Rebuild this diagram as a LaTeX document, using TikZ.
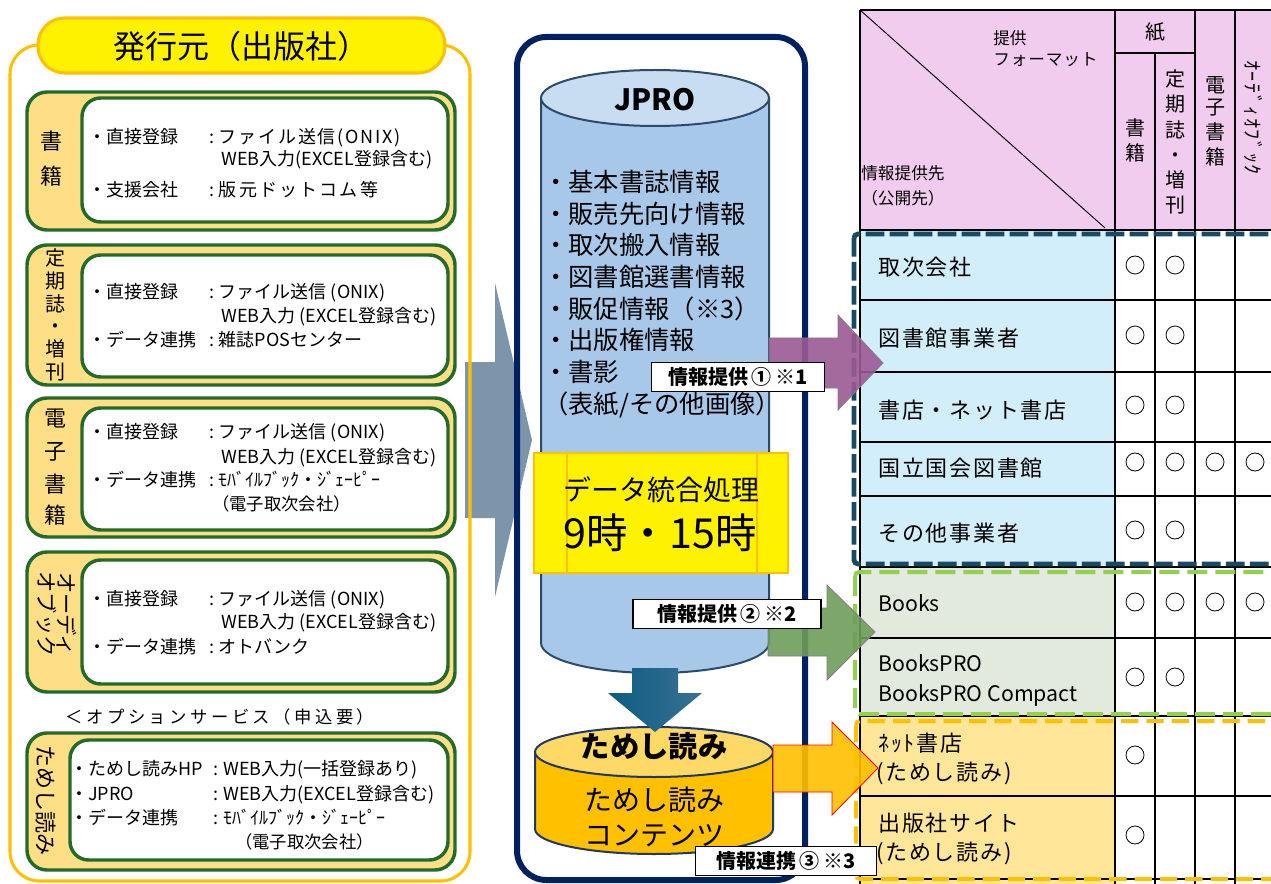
\documentclass[tikz,border=0pt]{standalone}
\usepackage{fontspec}
\setmainfont{Noto Sans CJK JP}
\usetikzlibrary{shapes.geometric}
\definecolor{orng}{HTML}{FFC000}
\definecolor{dkgreen}{HTML}{236B2A}
\definecolor{lorange}{HTML}{FFDF85}
\definecolor{navy}{HTML}{002060}
\definecolor{cylbody}{HTML}{A8C8EA}
\definecolor{cyltop}{HTML}{C8DCF2}
\definecolor{cylline}{HTML}{2C4A6B}
\definecolor{grayarrow}{HTML}{7D95AB}
\definecolor{purp}{HTML}{9B5A94}
\definecolor{garrow}{HTML}{6E9D5A}
\definecolor{pinkhdr}{HTML}{F2CCEE}
\definecolor{lblue}{HTML}{D2EEFA}
\definecolor{lgreen}{HTML}{E1EADC}
\definecolor{lorow}{HTML}{FFE699}
\definecolor{dashnavy}{HTML}{184A64}
\definecolor{dashgreen}{HTML}{92D050}
\definecolor{tmtop}{HTML}{FFD966}
\definecolor{tmline}{HTML}{1F3864}
\definecolor{darrowL}{HTML}{0D5B82}
\definecolor{darrowR}{HTML}{3A7194}
\newcommand\fsz[1]{\fontsize{#1}{#1}\selectfont}
\newcommand\trm[2]{\makebox[#1][l]{#2}\makebox[11pt][c]{:}}
\tikzset{
  outerbox/.style={draw=dkgreen, fill=lorange, line width=2.6pt, rounded corners=15pt},
  innerbox/.style={draw=dkgreen, fill=white, line width=2.6pt, rounded corners=14pt},
  ltxt/.style={anchor=west, inner sep=0pt, font=\fsz{13.5}},
  lab/.style={inner sep=0pt, font=\fsz{16.5}},
  clist/.style={anchor=west, inner sep=0pt, align=left, font=\fontsize{19}{23.8}\selectfont},
  infolbl/.style={draw=black, fill=white, line width=0.9pt, inner sep=0pt, font=\bfseries\fsz{15}},
  rtxt/.style={anchor=west, inner sep=0pt, font=\fsz{16.5}\addfontfeature{LetterSpace=8}},
  htxt/.style={anchor=west, inner sep=0pt, font=\fsz{12.5}},
  vch/.style={inner sep=0pt, font=\fsz{15}},
  circ/.style={circle, draw=black, line width=0.6pt, minimum size=13.5pt, inner sep=0pt},
  grid/.style={draw=black, line width=1.4pt},
  blockarrow/.style={line width=0.6pt}
}
\begin{document}
\begin{tikzpicture}[x=0.75pt,y=-0.75pt]
\useasboundingbox (0,0) rectangle (1271,884);
\clip (0,0) rectangle (1271,884);
\fill[white] (0,0) rectangle (1271,884);

% ===== big gray arrow =====
\fill[grayarrow] (465,362) -- (495,362) -- (495,283) -- (532,440) -- (495,597) -- (495,518) -- (465,518) -- cycle;

% ===== left panel =====
\draw[orng, line width=2.3pt, rounded corners=22pt] (10,45) rectangle (470,881);
\draw[orng, fill=yellow, line width=2.3pt, rounded corners=20pt] (38,18) rectangle (445,73);
\node[inner sep=0pt] (title) at (241,46) {\fsz{24}発行元（出版社）};

% box 1
\draw[outerbox] (27,92) rectangle (455,230);
\draw[innerbox] (82,98) rectangle (448,222);
\node[lab] (l1a) at (51,141) {書};
\node[lab] (l1b) at (51,176) {籍};
\node[ltxt] (b1a) at (88,138) {\trm{87pt}{・直接登録}\addfontfeature{LetterSpace=10}ファイル送信(ONIX)};
\node[ltxt] (b1b) at (221,160) {WEB入力(EXCEL登録含む)};
\node[ltxt] (b1c) at (88,190) {\trm{87pt}{・支援会社}\addfontfeature{LetterSpace=12}版元ドットコム等};

% box 2
\draw[outerbox] (27,245) rectangle (455,385);
\draw[innerbox] (82,255) rectangle (448,377);
\node[inner sep=0pt, align=center, font=\fontsize{15}{17.1}\selectfont] (l2) at (55,315) {定\\期\\誌\\・\\増\\刊};
\node[ltxt] (b2a) at (88,293) {\trm{87pt}{・直接登録}ファイル送信 (ONIX)};
\node[ltxt] (b2b) at (221,317) {WEB入力 (EXCEL登録含む)};
\node[ltxt] (b2c) at (88,340) {\trm{87pt}{・データ連携}雑誌POSセンター};

% box 3
\draw[outerbox] (27,398) rectangle (455,537);
\draw[innerbox] (82,408) rectangle (448,530);
\foreach \c/\yy [count=\i] in {電/419,子/452,書/484,籍/515}
  \node[lab] (l3-\i) at (55,\yy) {\c};
\node[ltxt] (b3a) at (88,433) {\trm{87pt}{・直接登録}ファイル送信 (ONIX)};
\node[ltxt] (b3b) at (221,458) {WEB入力 (EXCEL登録含む)};
\node[ltxt] (b3c) at (88,480) {\trm{87pt}{・データ連携}ﾓﾊﾞｲﾙﾌﾞｯｸ・ｼﾞｪｰﾋﾟｰ};
\node[ltxt, font=\fsz{13}] (b3d) at (212,504) {（電子取次会社）};

% box 4
\draw[outerbox] (27,552) rectangle (455,692);
\draw[innerbox] (82,560) rectangle (448,684);
\node[inner sep=0pt, rotate=-90, align=center, font=\fontsize{16}{15}\selectfont] (l4) at (57,614) {オーディ\\オブック};
\node[ltxt] (b4a) at (88,600) {\trm{87pt}{・直接登録}ファイル送信 (ONIX)};
\node[ltxt] (b4b) at (221,623) {WEB入力 (EXCEL登録含む)};
\node[ltxt] (b4c) at (88,647) {\trm{87pt}{・データ連携}オトバンク};

% option text
\node[inner sep=0pt] (opt) at (220,717) {\fsz{13}\addfontfeature{LetterSpace=20}＜オプションサービス（申込要）};

% box 5
\draw[outerbox] (27,733) rectangle (455,870);
\draw[innerbox] (70,740) rectangle (448,860);
\node[inner sep=0pt, rotate=-90, font=\fsz{16.5}] (l5) at (46,800) {ためし読み};
\node[ltxt] (b5a) at (70,770) {\trm{104pt}{・ためし読みHP}WEB入力(一括登録あり)};
\node[ltxt] (b5b) at (70,795) {\trm{104pt}{・JPRO}WEB入力(EXCEL登録含む)};
\node[ltxt] (b5c) at (70,818) {\trm{104pt}{・データ連携}ﾓﾊﾞｲﾙﾌﾞｯｸ・ｼﾞｪｰﾋﾟｰ};
\node[ltxt, font=\fsz{13}] (b5d) at (235,842) {（電子取次会社）};

% ===== center frame =====
\draw[navy, line width=4.5pt, rounded corners=22pt] (517,37) rectangle (805,880);

% JPRO cylinder
\filldraw[fill=cylbody, draw=cylline, line width=1.5pt] (541,98) -- (541,643)
  arc[start angle=180, end angle=0, x radius=114, y radius=30] -- (769,98) -- cycle;
\filldraw[fill=cyltop, draw=cylline, line width=1.5pt] (655,98) ellipse[x radius=114, y radius=28];
\node[inner sep=0pt] (jpro) at (655,100) {\bfseries\fsz{22}JPRO};
\node[clist] (jlist) at (543,294) {・基本書誌情報\\・販売先向け情報\\・取次搬入情報\\・図書館選書情報\\・販促情報（※3）\\・出版権情報\\・書影\\（表紙/その他画像）};

% data integration box
\draw[orng, fill=yellow, line width=1.5pt] (534,453) rectangle (788,573);
\draw[orng, line width=1.5pt] (567,453) -- (567,573) (757,453) -- (757,573);
\node[inner sep=0pt] (dt1) at (661,490) {\fsz{21}データ統合処理};
\node[inner sep=0pt] (dt2) at (660,533) {\fsz{31}9時・15時};

% ためし読み cylinder
\filldraw[fill=orng, draw=tmline, line width=1.5pt] (535,752) -- (535,829)
  arc[start angle=180, end angle=0, x radius=119, y radius=25] -- (773,752) -- cycle;
\filldraw[fill=tmtop, draw=tmline, line width=1.5pt] (654,752) ellipse[x radius=119, y radius=25];
\node[inner sep=0pt] (tm1) at (654,746) {\bfseries\fsz{22}ためし読み};
\node[inner sep=0pt] (tm2) at (654,800) {\fsz{21}ためし読み};
\node[inner sep=0pt] (tm3) at (654,836) {\fsz{21}コンテンツ};

% down arrow
\shade[left color=darrowL, right color=darrowR] (632,668) -- (678,668) -- (678,693) -- (702,693) -- (655,732) -- (608,693) -- (632,693) -- cycle;

% ===== table =====
\fill[pinkhdr] (860,10) rectangle (1280,230);
\fill[lblue] (860,230) rectangle (1115,567);
\fill[lgreen] (860,567) rectangle (1115,716);
\fill[lorow] (860,716) rectangle (1115,884);
\draw[black, line width=0.7pt] (860,10) -- (1105,228);
\draw[grid] (860,10) -- (1280,10);
\draw[grid] (1115,53) -- (1195,53);
\draw[grid] (860,230) -- (1280,230);
\foreach \yy in {300,372,442,496,567,638,716,796,879}
  \draw[grid] (860,\yy) -- (1280,\yy);
\draw[grid] (860,10) -- (860,884);
\draw[grid] (1115,10) -- (1115,884);
\draw[grid] (1155,53) -- (1155,884);
\draw[grid] (1195,10) -- (1195,884);
\draw[grid] (1235,10) -- (1235,884);

% header texts
\node[htxt] (h1) at (993,38) {提供};
\node[htxt] (h2) at (993,60) {\addfontfeature{LetterSpace=5}フォーマット};
\node[htxt] (h3) at (861,173) {情報提供先};
\node[htxt] (h4) at (861,198) {（公開先）};
\node[vch] (hk) at (1155,32) {紙};
\foreach \c/\yy [count=\i] in {書/128,籍/153}
  \node[vch] (hs-\i) at (1135,\yy) {\c};
\node[inner sep=0pt, align=center, font=\fontsize{15}{18.8}\selectfont] (ht) at (1175,142) {定\\期\\誌\\・\\増\\刊};
\foreach \c/\yy [count=\i] in {電/85,子/108,書/132,籍/157}
  \node[vch] (hd-\i) at (1215,\yy) {\c};
\node[inner sep=0pt, rotate=-90, anchor=west, font=\fsz{15}\addfontfeature{LetterSpace=8}] (ha) at (1253,60) {ｵｰﾃﾞｨｵﾌﾞｯｸ};

% row labels
\node[rtxt] (r1) at (878,267) {取次会社};
\node[rtxt] (r2) at (878,338) {図書館事業者};
\node[rtxt] (r3) at (878,410) {書店・ネット書店};
\node[rtxt] (r4) at (878,468) {国立国会図書館};
\node[rtxt] (r5) at (878,533) {その他事業者};
\node[rtxt, font=\fsz{16}] (r6) at (878,603) {Books};
\node[rtxt, font=\fsz{16}] (r7) at (878,663) {BooksPRO};
\node[rtxt, font=\fsz{16}] (r8) at (878,695) {BooksPRO Compact};
\node[rtxt] (r9) at (878,743) {ﾈｯﾄ書店};
\node[rtxt] (r10) at (876,773) {(ためし読み)};
\node[rtxt] (r11) at (878,823) {出版社サイト};
\node[rtxt] (r12) at (876,853) {(ためし読み)};

% circles
\foreach \yy/\n [count=\i] in {265/2,335/2,405/2,462/4,530/2,602/4,677/2,755/1,835/1}{
  \foreach \xx [count=\j] in {1135,1175,1215,1255}{
    \ifnum\j>\n\relax\else
      \node[circ] (c\i-\j) at (\xx,\yy) {};
    \fi
  }
}

% dashed group borders
\draw[dashnavy, line width=3.6pt, dash pattern=on 14pt off 4pt, rounded corners=3pt] (854,234) rectangle (1300,564);
\draw[dashgreen, line width=3pt, dash pattern=on 15pt off 6pt, rounded corners=3pt] (855,572) rectangle (1300,714);
\draw[orng, line width=3pt, dash pattern=on 13pt off 6pt, rounded corners=3pt] (856,721) rectangle (1300,879);

% ===== block arrows to table =====
\filldraw[fill=purp, fill opacity=0.9, draw=gray, blockarrow] (769,338) -- (838,338) -- (838,315) -- (883,363) -- (838,410) -- (838,388) -- (769,388) -- cycle;
\filldraw[fill=garrow, fill opacity=0.9, draw=gray, blockarrow] (768,608) -- (827,608) -- (827,585) -- (875,632) -- (827,680) -- (827,656) -- (768,656) -- cycle;
\filldraw[fill=orng, fill opacity=0.9, draw=red, blockarrow] (773,745) -- (832,745) -- (832,722) -- (878,768) -- (832,815) -- (832,792) -- (773,792) -- cycle;

% labels
\node[infolbl, minimum width=130pt, minimum height=22pt] (lab1) at (738,377) {情報提供\,①\,※1};
\node[infolbl, minimum width=141pt, minimum height=22pt] (lab2) at (727,614) {情報提供\,②\,※2};
\node[infolbl, minimum width=136pt, minimum height=22pt] (lab3) at (786,861) {情報連携\,③\,※3};
\end{tikzpicture}
\end{document}
